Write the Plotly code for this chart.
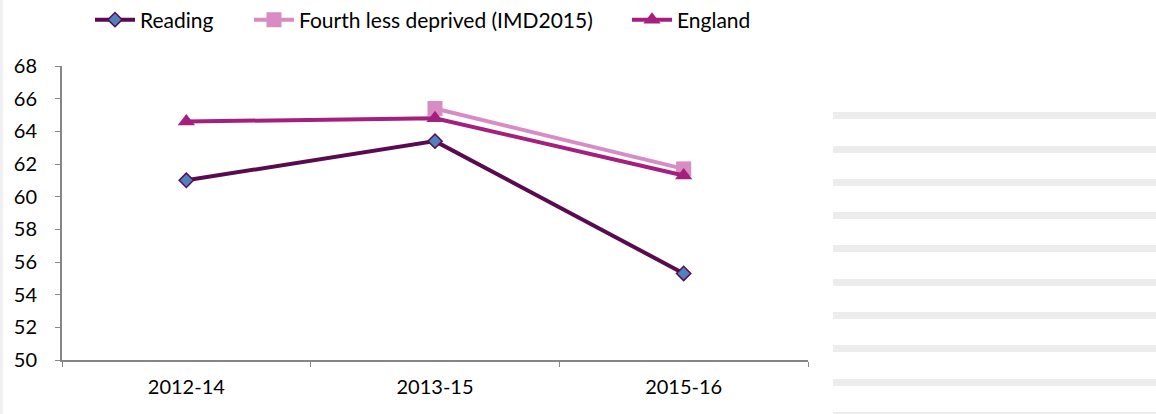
import plotly.graph_objects as go

# Periods and series values
periods = ["2012-14", "2013-15", "2015-16"]
reading = [61.0, 63.4, 55.3]
fourth_less_deprived = [None, 65.4, 61.7]
england = [64.6, 64.8, 61.3]

y_ticks = [50, 52, 54, 56, 58, 60, 62, 64, 66, 68]

FONT = "Lato, Open Sans, sans-serif"

# plot area in pixels
W, H = 1156, 414
L, R, T, B = 62, 348, 66, 54
PW, PH = W - L - R, H - T - B


def px_x(x):
    return (x - L) / PW


def px_y(y):
    return (H - B - y) / PH


fig = go.Figure()

fig.add_trace(go.Scatter(
    x=periods, y=reading, name="Reading", mode="lines+markers",
    line=dict(color="#5a0b4f", width=4),
    marker=dict(symbol="diamond", size=11, color="#4f81bd",
                line=dict(color="#5a0b4f", width=1.5)),
    legend="legend",
))
fig.add_trace(go.Scatter(
    x=periods, y=fourth_less_deprived, name="Fourth less deprived (IMD2015)",
    mode="lines+markers",
    line=dict(color="#d78cc3", width=4),
    marker=dict(symbol="square", size=15, color="#d78cc3"),
    legend="legend2",
))
fig.add_trace(go.Scatter(
    x=periods, y=england, name="England", mode="lines+markers",
    line=dict(color="#a51f7e", width=4),
    marker=dict(symbol="triangle-up", size=15, color="#a51f7e"),
    legend="legend3",
))

# light grey stripes in the right-hand panel
stripe_tops = [112, 146, 179, 212, 245, 279, 312, 345, 379, 412]
shapes = []
for t in stripe_tops:
    shapes.append(dict(
        type="rect", xref="paper", yref="paper",
        x0=px_x(833), x1=px_x(1160),
        y0=px_y(t + 7), y1=px_y(t),
        fillcolor="#ececec", line=dict(width=0), layer="below",
    ))
# thin grey strip along the left edge
shapes.append(dict(
    type="rect", xref="paper", yref="paper",
    x0=px_x(-2), x1=px_x(3), y0=px_y(420), y1=px_y(-5),
    fillcolor="#f0f0f0", line=dict(width=0), layer="below",
))

legend_common = dict(
    orientation="h", xanchor="left", yanchor="middle",
    xref="container", yref="container", y=1 - 20 / H,
    font=dict(family=FONT, size=21, color="#000000"),
    itemwidth=40, bgcolor="rgba(0,0,0,0)", borderwidth=0,
)

fig.update_layout(
    width=W, height=H,
    margin=dict(l=L, r=R, t=T, b=B, autoexpand=False),
    paper_bgcolor="white", plot_bgcolor="white",
    font=dict(family=FONT, size=20, color="#000000"),
    showlegend=True,
    legend=dict(legend_common, x=90 / W),
    legend2=dict(legend_common, x=249 / W),
    legend3=dict(legend_common, x=627 / W),
    shapes=shapes,
    xaxis=dict(
        type="category", range=[-0.5, 2.5],
        showline=True, linecolor="#868686", linewidth=2,
        ticks="outside", tickson="boundaries", ticklen=5, tickcolor="#868686",
        showgrid=False, zeroline=False, ticklabelstandoff=8,
        tickfont=dict(family=FONT, size=20, color="#000000"),
    ),
    yaxis=dict(
        range=[50, 68], tickvals=y_ticks,
        showline=True, linecolor="#868686", linewidth=2,
        ticks="outside", ticklen=5, tickcolor="#868686",
        showgrid=False, zeroline=False, ticklabelstandoff=14,
        tickfont=dict(family=FONT, size=20, color="#000000"),
    ),
)

fig.write_html("out.html")
